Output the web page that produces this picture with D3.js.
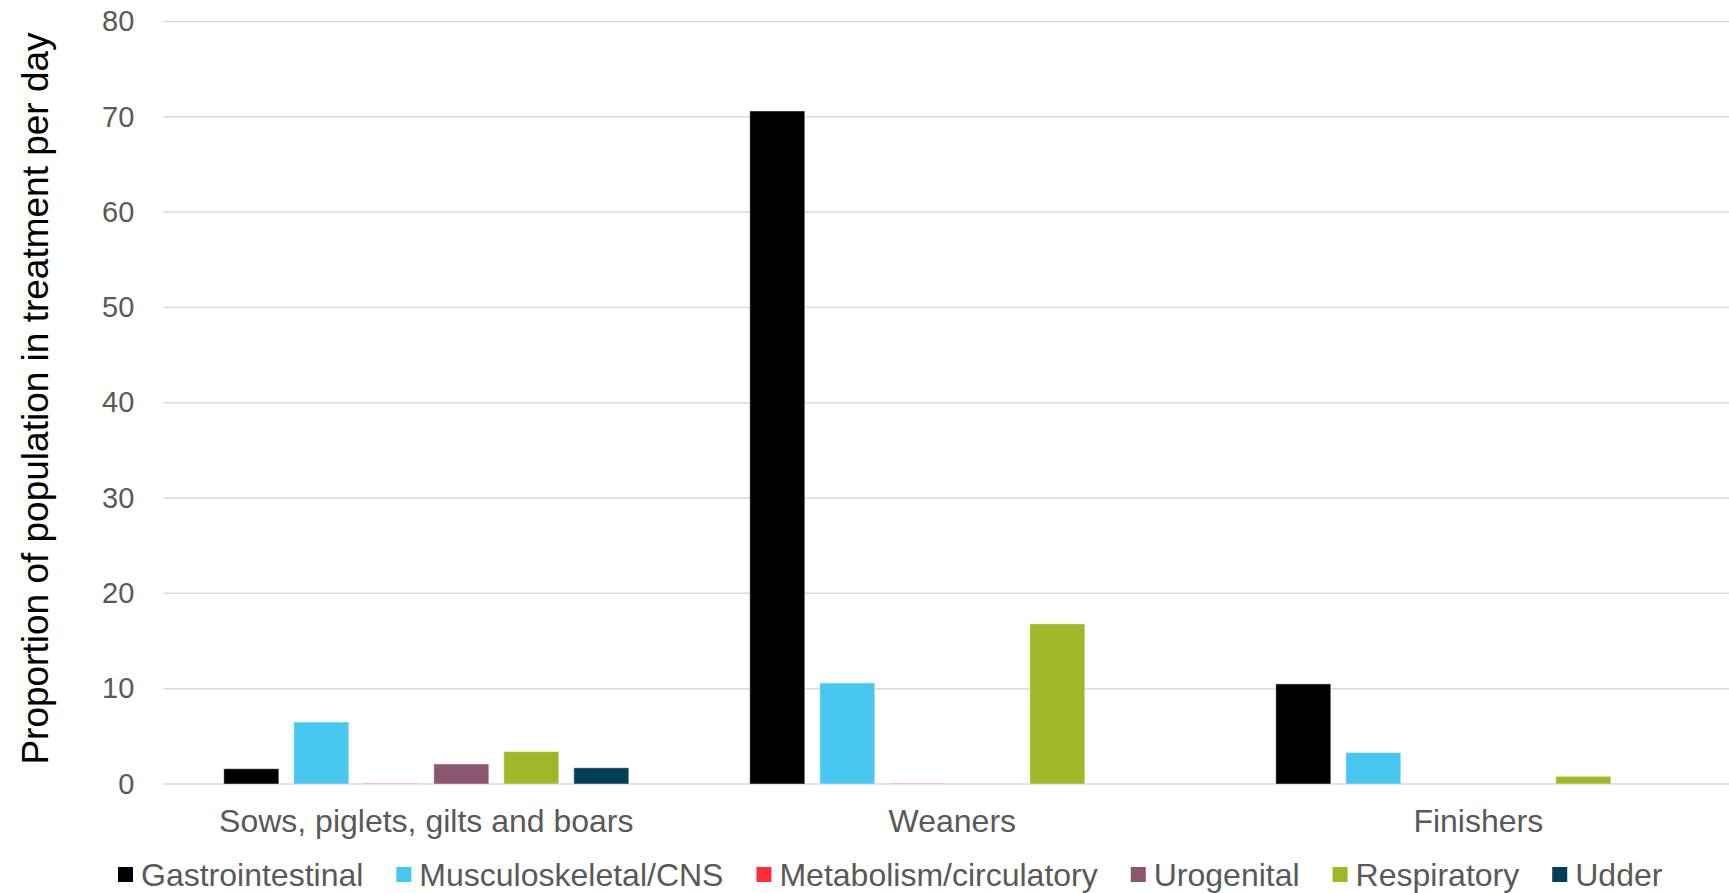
<!DOCTYPE html>
<html>
<head>
<meta charset="utf-8">
<script src="https://cdn.jsdelivr.net/npm/d3@7"></script>
<style>
  html, body { margin: 0; padding: 0; background: #ffffff; }
  svg { display: block; font-family: "Liberation Sans", Arial, sans-serif; }
</style>
</head>
<body>
<svg id="chart" width="1729" height="893"></svg>
<script>
// Production groups along the x axis
const categories = ["Sows, piglets, gilts and boars", "Weaners", "Finishers"];

// Disease areas (one bar per group for each)
const seriesNames = ["Gastrointestinal", "Musculoskeletal/CNS", "Metabolism/circulatory", "Urogenital", "Respiratory", "Udder"];
const seriesColors = ["#000000", "#48C8F0", "#FF2D3C", "#8B5670", "#A2B728", "#033D56"];

// Proportion of population in treatment per day, per group
const gastrointestinal = [1.6, 70.6, 10.5];
const musculoskeletal = [6.5, 10.6, 3.3];
const metabolism = [0.05, 0.05, 0];
const urogenital = [2.1, 0, 0];
const respiratory = [3.4, 16.8, 0.8];
const udder = [1.7, 0, 0];

const yTicks = [0, 10, 20, 30, 40, 50, 60, 70, 80];
const yTitle = "Proportion of population in treatment per day";

const seriesValues = [gastrointestinal, musculoskeletal, metabolism, urogenital, respiratory, udder];

const svg = d3.select("#chart");

const plotLeft = 163.3, plotRight = 1741.3, plotTop = 21.4, plotBottom = 784;

const x0 = d3.scaleBand()
  .domain(categories)
  .range([plotLeft, plotRight])
  .paddingInner(0.23)
  .paddingOuter(0.115);

const x1 = d3.scaleBand()
  .domain(seriesNames)
  .range([0, x0.bandwidth()])
  .paddingInner(15 / 70);

const y = d3.scaleLinear().domain([0, 80]).range([plotBottom, plotTop]);

// Horizontal gridlines
svg.append("g")
  .selectAll("line")
  .data(yTicks)
  .join("line")
  .attr("x1", plotLeft)
  .attr("x2", plotRight)
  .attr("y1", d => y(d))
  .attr("y2", d => y(d))
  .attr("stroke", "#d9d9d9")
  .attr("stroke-width", 1.5);

// Y axis tick labels
const yAxis = d3.axisLeft(y).tickValues(yTicks).tickSize(0).tickPadding(0);
const yg = svg.append("g").attr("transform", `translate(${plotLeft - 29},0)`).call(yAxis);
yg.select(".domain").remove();
yg.selectAll("text")
  .attr("fill", "#595959")
  .style("font-size", "29px")
  .style("font-family", "'Liberation Sans', Arial, sans-serif");

// Bars
const groups = svg.append("g")
  .selectAll("g")
  .data(categories)
  .join("g")
  .attr("transform", d => `translate(${x0(d)},0)`);

groups.selectAll("rect")
  .data((c, ci) => seriesNames.map((s, si) => ({ s, si, v: seriesValues[si][ci] })))
  .join("rect")
  .filter(d => d.v > 0)
  .attr("x", d => x1(d.s))
  .attr("width", x1.bandwidth())
  .attr("y", d => y(d.v))
  .attr("height", d => y(0) - y(d.v))
  .attr("fill", d => seriesColors[d.si])
  .attr("stroke", "#ffffff")
  .attr("stroke-opacity", 0.45)
  .attr("stroke-width", 1);

// Category labels
const xAxis = d3.axisBottom(x0).tickSize(0).tickPadding(0);
const xg = svg.append("g").attr("transform", `translate(0,${plotBottom + 25})`).call(xAxis);
xg.select(".domain").remove();
xg.selectAll("text")
  .attr("fill", "#595959")
  .attr("dy", "0.71em")
  .style("font-size", "32px")
  .style("font-family", "'Liberation Sans', Arial, sans-serif");

// Y axis title
svg.append("text")
  .attr("transform", "translate(48,398.5) rotate(-90)")
  .attr("text-anchor", "middle")
  .attr("fill", "#000000")
  .style("font-size", "37px")
  .text(yTitle);

// Legend
const legend = svg.append("g").attr("transform", "translate(118,874.5)");
let lx = 0;
seriesNames.forEach((name, i) => {
  const item = legend.append("g").attr("transform", `translate(${lx},0)`);
  item.append("rect")
    .attr("x", 0).attr("y", -7.5)
    .attr("width", 15).attr("height", 15)
    .attr("fill", seriesColors[i]);
  const t = item.append("text")
    .attr("x", 23)
    .attr("dy", "0.35em")
    .attr("fill", "#595959")
    .style("font-size", "32px")
    .text(name);
  lx += 23 + t.node().getComputedTextLength() + 33;
});
</script>
</body>
</html>
